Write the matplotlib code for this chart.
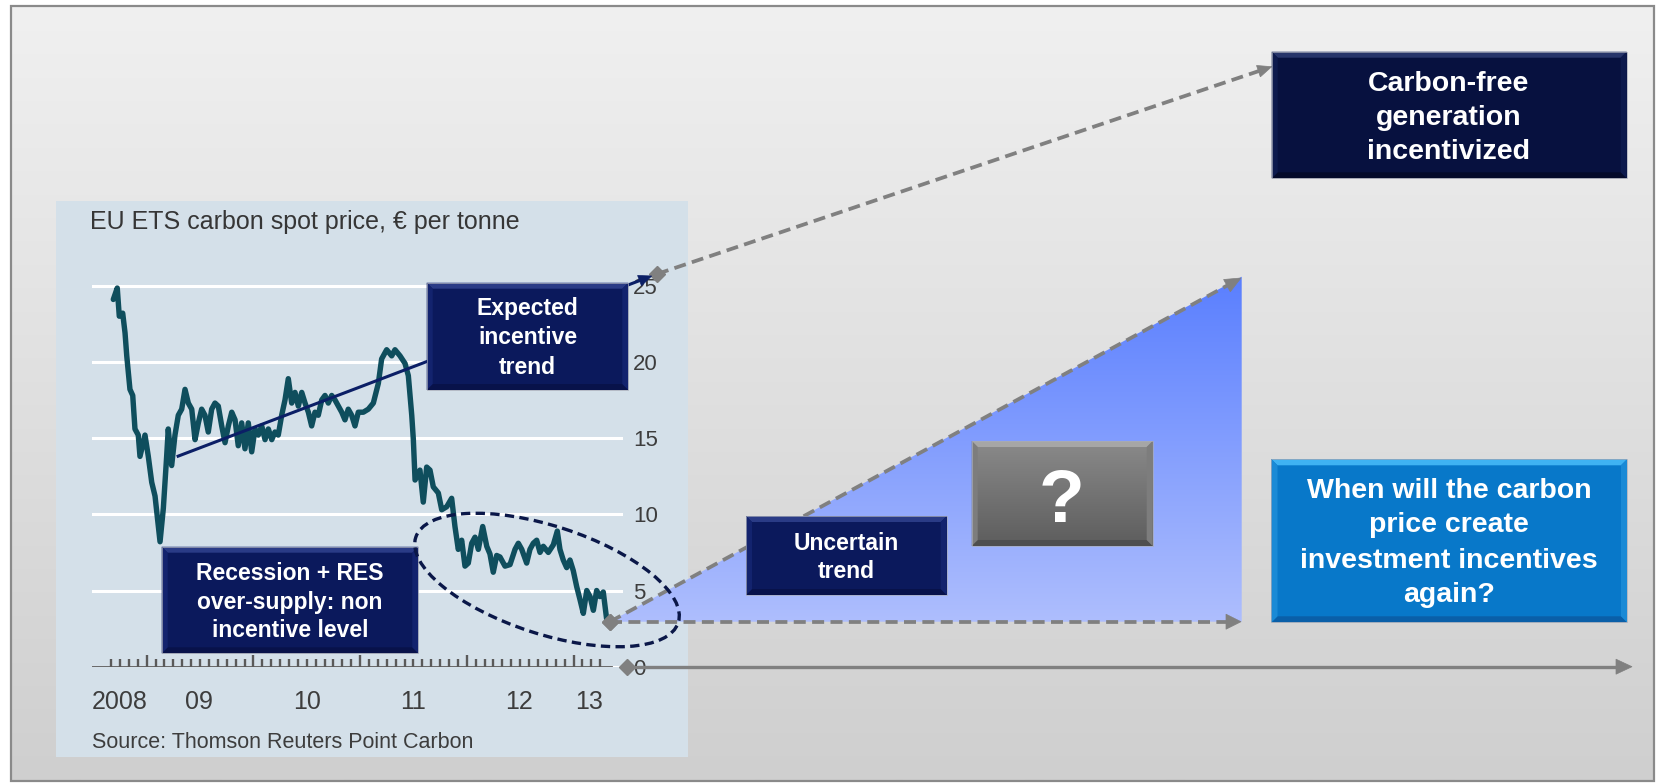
"""EU ETS carbon price slide: Economist-style price inset plus the
'expected / uncertain trend' scenario sketch drawn around it."""
import numpy as np
import matplotlib
matplotlib.use("Agg")
import matplotlib.pyplot as plt
from matplotlib.colors import to_rgb
from matplotlib.patches import Polygon, Rectangle, Ellipse

W, H = 1666, 783
FONT = ["Liberation Sans", "DejaVu Sans"]

# EU ETS spot price (decimal year, EUR per tonne)
PRICE_YEARS = [
    2008.687, 2008.724, 2008.743, 2008.775, 2008.797, 2008.813, 2008.843, 2008.869,
    2008.890, 2008.921, 2008.937, 2008.984, 2009.015, 2009.047, 2009.078, 2009.125,
    2009.156, 2009.187, 2009.202, 2009.234, 2009.265, 2009.296, 2009.328, 2009.359,
    2009.390, 2009.422, 2009.453, 2009.484, 2009.515, 2009.546, 2009.577, 2009.609,
    2009.640, 2009.671, 2009.703, 2009.734, 2009.765, 2009.797, 2009.828, 2009.858,
    2009.890, 2009.921, 2009.952, 2009.984, 2010.015, 2010.046, 2010.078, 2010.109,
    2010.140, 2010.172, 2010.202, 2010.233, 2010.265, 2010.296, 2010.327, 2010.359,
    2010.390, 2010.421, 2010.453, 2010.484, 2010.515, 2010.546, 2010.577, 2010.608,
    2010.640, 2010.671, 2010.702, 2010.734, 2010.765, 2010.796, 2010.828, 2010.858,
    2010.889, 2010.921, 2010.952, 2010.983, 2011.030, 2011.077, 2011.124, 2011.171,
    2011.202, 2011.249, 2011.296, 2011.327, 2011.374, 2011.421, 2011.452, 2011.484,
    2011.499, 2011.515, 2011.561, 2011.592, 2011.624, 2011.655, 2011.686, 2011.733,
    2011.765, 2011.812, 2011.858, 2011.889, 2011.920, 2011.952, 2011.983, 2012.014,
    2012.046, 2012.077, 2012.108, 2012.149, 2012.187, 2012.217, 2012.248, 2012.280,
    2012.311, 2012.358, 2012.405, 2012.452, 2012.483, 2012.515, 2012.561, 2012.592,
    2012.623, 2012.655, 2012.686, 2012.717, 2012.764, 2012.811, 2012.848, 2012.873,
    2012.904, 2012.936, 2012.967, 2012.998, 2013.030, 2013.061, 2013.092, 2013.124,
    2013.155, 2013.186, 2013.217, 2013.248, 2013.279, 2013.311, 2013.342,
]
PRICE_EUR = [
    24.1, 24.85, 23.0, 23.2, 21.9, 20.4, 18.2, 17.8,
    15.6, 15.2, 13.8, 15.2, 13.8, 12.1, 11.2, 8.2,
    10.4, 13.8, 15.6, 13.2, 15.2, 16.5, 16.9, 18.2,
    17.3, 16.9, 14.9, 16.0, 16.9, 16.5, 15.4, 16.9,
    17.3, 17.1, 15.8, 14.7, 15.8, 16.7, 16.2, 14.5,
    16.0, 14.3, 16.0, 14.1, 15.6, 15.2, 15.8, 14.9,
    15.6, 14.9, 15.4, 15.2, 16.5, 17.5, 18.9, 17.3,
    18.0, 17.1, 18.0, 17.3, 16.7, 15.8, 16.7, 16.5,
    17.5, 17.8, 17.3, 17.8, 17.5, 17.1, 16.7, 16.2,
    16.9, 16.5, 15.8, 16.7, 16.7, 16.9, 17.3, 18.6,
    20.2, 20.8, 20.4, 20.8, 20.4, 19.9, 19.1, 16.5,
    14.9, 12.25, 12.9, 10.8, 13.1, 12.9, 11.8, 11.4,
    10.3, 10.5, 11.05, 9.2, 7.7, 8.3, 6.6, 6.8,
    8.1, 8.5, 7.7, 9.2, 7.9, 7.4, 6.2, 7.3,
    7.2, 6.6, 6.7, 7.7, 8.1, 7.7, 6.8, 7.7,
    8.1, 8.3, 7.5, 7.9, 7.5, 8.0, 8.9, 7.7,
    7.0, 6.5, 7.0, 6.3, 5.25, 4.4, 3.5, 5.0,
    4.6, 3.7, 5.0, 4.6, 4.9, 3.1, 2.95,
]

Y_TICKS = [0, 5, 10, 15, 20, 25]
YEAR_LABELS = ["2008", "09", "10", "11", "12", "13"]
YEAR_LABEL_POS = [2008.75, 2009.49, 2010.507, 2011.50, 2012.485, 2013.146]

TITLE = "EU ETS carbon spot price, € per tonne"
SOURCE = "Source: Thomson Reuters Point Carbon"

EXPECTED_LINES = ["Expected", "incentive", "trend"]
RECESSION_LINES = ["Recession + RES", "over-supply: non", "incentive level"]
UNCERTAIN_LINES = ["Uncertain", "trend"]
CARBONFREE_LINES = ["Carbon-free", "generation", "incentivized"]
QUESTION_LINES = ["When will the carbon", "price create",
                  "investment incentives", "again?"]

GRAY = "#808080"
NAVY = "#0b195c"
TEAL = "#0f4e5d"


def px_axes(fig, z):
    ax = fig.add_axes([0, 0, 1, 1], zorder=z)
    ax.set_xlim(0, W)
    ax.set_ylim(H, 0)
    ax.axis("off")
    return ax


def vgrad(ax, x0, y0, x1, y1, c_top, c_bot, clip, z):
    t = np.linspace(0, 1, 256)[:, None, None]
    a, b = np.array(to_rgb(c_top)), np.array(to_rgb(c_bot))
    img = a + (b - a) * t
    im = ax.imshow(img, extent=(x0, x1, y1, y0), aspect="auto",
                   interpolation="bilinear", zorder=z)
    if clip is not None:
        im.set_clip_path(clip)
    return im


def bevel_box(ax, x0, y0, x1, y1, fill, top, bottom, side, b=6, z=5, grad=None):
    rect = Rectangle((x0, y0), x1 - x0, y1 - y0, facecolor=fill,
                     edgecolor="none", zorder=z)
    ax.add_patch(rect)
    if grad is not None:
        vgrad(ax, x0, y0, x1, y1, grad[0], grad[1], rect, z + 0.01)
    zz = z + 0.02
    ax.add_patch(Polygon([(x0, y0), (x1, y0), (x1 - b, y0 + b), (x0 + b, y0 + b)],
                         facecolor=top, edgecolor="none", zorder=zz))
    ax.add_patch(Polygon([(x0, y1), (x1, y1), (x1 - b, y1 - b), (x0 + b, y1 - b)],
                         facecolor=bottom, edgecolor="none", zorder=zz))
    ax.add_patch(Polygon([(x0, y0), (x0 + b, y0 + b), (x0 + b, y1 - b), (x0, y1)],
                         facecolor=side, edgecolor="none", zorder=zz))
    ax.add_patch(Polygon([(x1, y0), (x1 - b, y0 + b), (x1 - b, y1 - b), (x1, y1)],
                         facecolor=side, edgecolor="none", zorder=zz))
    ax.add_patch(Rectangle((x0, y0), x1 - x0, y1 - y0, fill=False,
                           edgecolor="#a8acb8", lw=0.5, zorder=zz))


def box_text(ax, xc, baselines, lines, size, z=7):
    for yb, s in zip(baselines, lines):
        ax.text(xc, yb, s, ha="center", va="baseline", color="white",
                fontsize=size, fontweight="bold", family=FONT, zorder=z)


def arrow(ax, p0, p1, color, lw, dashes=None, hl=15, hw=13, start_diamond=True, z=3):
    p0, p1 = np.array(p0, float), np.array(p1, float)
    d = (p1 - p0) / np.hypot(*(p1 - p0))
    n = np.array([-d[1], d[0]])
    base = p1 - d * hl
    end = p1 - d * hl * 0.9
    kw = dict(color=color, lw=lw, solid_capstyle="butt", zorder=z)
    if dashes is not None:
        kw.update(dashes=dashes, dash_capstyle="butt")
    ax.plot([p0[0], end[0]], [p0[1], end[1]], **kw)
    ax.add_patch(Polygon([p1, base + n * hw / 2, base - n * hw / 2], closed=True,
                         facecolor=color, edgecolor=color, lw=0.5, zorder=z))
    if start_diamond:
        ax.plot([p0[0]], [p0[1]], marker="D", ms=8.5, color=color, zorder=z + 0.1)


def main():
    fig = plt.figure(figsize=(W / 100, H / 100), dpi=100, facecolor="white")

    # background slide
    bg = px_axes(fig, 0)
    vgrad(bg, 11, 6, 1654, 781, "#f0f0f0", "#cfcfcf", None, 0)
    bg.add_patch(Rectangle((11, 6), 1643, 775, fill=False, edgecolor="#8a8a8a", lw=1.6, zorder=1))
    bg.add_patch(Rectangle((56, 200.7), 632.3, 556, facecolor="#d4e0e9", edgecolor="none", zorder=2))
    bg.set_xlim(0, W)
    bg.set_ylim(H, 0)

    # price inset
    left, right, base_y, top_y = 91.7, 623.3, 666.7, 270.5
    ax = fig.add_axes([left / W, 1 - base_y / H, (right - left) / W, (base_y - top_y) / H], zorder=1)
    ax.set_facecolor("none")
    ax.set_xlim(2008.4845, 2013.4667)
    ax.set_ylim(0, 26.0)
    for sp in ax.spines.values():
        sp.set_visible(False)
    ax.set_yticks(Y_TICKS)
    ax.yaxis.tick_right()
    ax.tick_params(axis="y", length=0, pad=7, labelsize=16, labelcolor="#3d3d3d")
    ax.set_xticks(YEAR_LABEL_POS, YEAR_LABELS)
    ax.tick_params(axis="x", length=0, pad=16.5, labelsize=18, labelcolor="#3d3d3d")
    for lab in ax.get_xticklabels() + ax.get_yticklabels():
        lab.set_family(FONT)
    ax.grid(axis="y", color="white", lw=2.2)
    ax.grid(axis="x", visible=False)
    ax.set_axisbelow(True)
    ax.plot([2008.4845, 2013.35], [0, 0], color="#5a5a5a", lw=2.0, zorder=2)
    months = np.arange(2008 + 8 / 12, 2013.30, 1 / 12)
    heights = [0.8 if abs(m - round(m)) < 1e-3 else 0.5 for m in months]
    ax.vlines(months, 0, heights, color="#5a5a5a", lw=1.7, zorder=2)
    ax.plot(PRICE_YEARS, PRICE_EUR, color=TEAL, lw=3.9, solid_joinstyle="round",
            solid_capstyle="round", zorder=3, clip_on=False)

    # overlay sketch
    ov = px_axes(fig, 2)
    ov.text(90, 229, TITLE, fontsize=18, color="#363636", family=FONT, va="baseline")
    ov.text(91.7, 748.3, SOURCE, fontsize=15.5, color="#3d3d3d", family=FONT, va="baseline")

    origin = (610, 621.7)
    tri = Polygon([origin, (1241.7, 276.7), (1241.7, 621.7)], closed=True,
                  facecolor="none", edgecolor="none")
    ov.add_patch(tri)
    vgrad(ov, 610, 276.7, 1241.7, 621.7, "#5a7fff", "#aebefd", tri, 1)

    dash = (3.2, 1.7)
    arrow(ov, origin, (1241, 621.7), GRAY, 2.7, dashes=dash, hl=15, hw=15)
    arrow(ov, origin, (1241, 278), GRAY, 2.7, dashes=dash, hl=16, hw=14)
    arrow(ov, (657, 274), (1271.7, 66.7), GRAY, 2.7, dashes=dash, hl=14, hw=12)
    arrow(ov, (626.7, 666.7), (1632, 666.7), GRAY, 2.4, hl=16, hw=15)

    # expected incentive trend
    arrow(ov, (176.7, 456.7), (651.7, 276), "#0b1f66", 2.2, hl=13, hw=11,
          start_diamond=False, z=4)

    ov.add_patch(Ellipse((547, 580), 276, 108, angle=18, fill=False,
                         edgecolor="#0a1748", lw=2.4, linestyle=(0, (2.8, 1.6)), zorder=8))

    navy = dict(fill=NAVY, top="#2a3b86", bottom="#08124a", side="#13236e")
    bevel_box(ov, 426.7, 282.7, 628.3, 390, **navy)
    box_text(ov, 527.5, [315, 344.5, 373.5], EXPECTED_LINES, 16.5)

    bevel_box(ov, 161.7, 546.7, 418.3, 653.3, **navy)
    box_text(ov, 290, [580, 608.5, 637], RECESSION_LINES, 16.5)

    bevel_box(ov, 746, 516, 946.7, 595, **navy)
    box_text(ov, 846.3, [550, 577.5], UNCERTAIN_LINES, 16.5)

    bevel_box(ov, 971.7, 441, 1152.7, 546, fill="#737373", top="#a6a6a6",
              bottom="#4e4e4e", side="#7d7d7d", grad=("#8a8a8a", "#5d5d5d"))
    box_text(ov, 1062, [521.7], ["?"], 54)

    bevel_box(ov, 1271.7, 51.7, 1626.7, 178.3, fill="#07113f", top="#27356a",
              bottom="#040a2a", side="#0d1a4d")
    box_text(ov, 1449, [91, 125, 159], CARBONFREE_LINES, 20.5)

    bevel_box(ov, 1271.5, 459.3, 1627, 622.3, fill="#0878c9", top="#3fb2f2",
              bottom="#0a5fa8", side="#1a8ad6")
    box_text(ov, 1449, [498.3, 532.5, 567.5, 602], QUESTION_LINES, 20.5)

    for a in (bg, ov):
        a.set_xlim(0, W)
        a.set_ylim(H, 0)

    fig.savefig("out.png", dpi=100, facecolor="white")
    plt.close(fig)


if __name__ == "__main__":
    main()
